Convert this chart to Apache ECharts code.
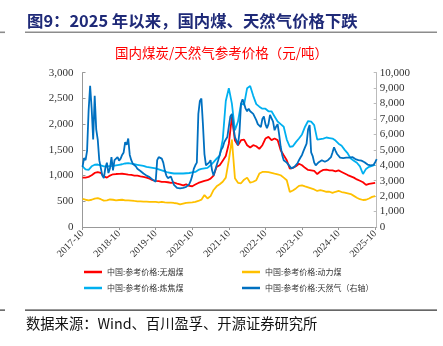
<!DOCTYPE html>
<html><head><meta charset="utf-8">
<script src="https://cdn.jsdelivr.net/npm/echarts@6/dist/echarts.min.js"></script>
<style>html,body{margin:0;padding:0;background:#fff}#c{width:443px;height:346px}</style>
</head><body><div id="c"></div>
<script>
// ---- data ----
const xTickLabels = ['2017-10','2018-10','2019-10','2020-10','2021-10','2022-10','2023-10','2024-10','2025-10'];
const seriesNames = ['中国:参考价格:无烟煤','中国:参考价格:动力煤','中国:参考价格:炼焦煤','中国:参考价格:天然气（右轴）'];
// monthly, 2017-10 .. 2025-10 (yuan/ton, left axis)
const anthracite = [960,960,975,1005,1050,1065,1050,985,960,1000,1025,1030,1032,1035,1030,1020,1012,1000,1000,986,975,960,940,910,895,890,876,876,870,858,865,844,830,811,830,798,792,825,857,876,895,909,941,1000,1170,1200,1290,1380,1620,2140,1680,1590,1687,1700,1590,1545,1590,1570,1519,1590,1720,1752,1690,1720,1690,1493,1395,1298,1136,1150,1180,1230,1200,1150,1110,1100,1090,1030,1080,1110,1115,1100,1100,1080,1100,1070,1040,1010,985,960,925,900,870,820,840,850,860];
const thermal = [545,530,519,530,552,560,540,513,519,535,530,519,525,530,519,519,513,506,500,500,493,493,487,487,487,480,487,480,474,474,467,461,441,454,467,474,480,487,506,532,620,555,600,720,790,830,880,960,1300,1700,950,860,850,920,960,860,880,910,1040,1070,1071,1065,1052,1038,1025,1006,960,909,681,710,750,800,811,790,770,750,730,701,715,701,685,685,662,685,701,680,670,655,640,605,570,540,525,530,555,585,600];
const coking = [1180,1120,1110,1180,1210,1215,1200,1180,1180,1185,1190,1200,1210,1220,1235,1240,1230,1220,1210,1200,1190,1170,1160,1150,1140,1120,1100,1080,1060,1050,1040,1040,1040,1040,1045,1050,1060,1070,1110,1130,1140,1150,1200,1260,1330,1390,1700,2450,2700,2400,1880,2050,2400,2380,2700,2740,2550,2390,2340,2300,2300,2250,2250,2150,2050,2000,1950,1700,1560,1570,1650,1720,1800,1950,2060,2050,1980,1700,1710,1720,1740,1730,1720,1680,1620,1580,1500,1430,1330,1290,1250,1180,1030,1130,1170,1190,1210];
// semi-monthly (1st and 16th), 2017-10-01 .. 2025-10-16 (yuan/ton, right axis)
const naturalGas = [
3890,4470,4330,4930,7530,9150,7700,5670,8500,6330,
5670,4330,3830,3330,3170,3830,4170,3500,3800,4530,
3670,4330,4270,4530,4300,4430,4670,4830,5500,5330,
5730,4670,4330,4100,4000,3930,3770,3670,3630,3530,
3470,3400,3330,3300,3230,3170,3070,3000,2930,4330,
4530,4470,4430,4170,3670,3330,3170,3200,3270,3000,
2730,2670,2530,2500,2500,2500,2530,2570,2600,2630,
2770,3000,3330,3770,4000,4170,7330,8170,8330,6670,
4730,4000,3900,4170,4330,3670,3330,3270,4000,4330,
4670,5000,5170,5500,5670,5830,6500,7170,7330,6500,
5830,5600,5300,6170,8000,8270,8000,7670,7500,7670,
7500,7430,7330,7230,6930,6670,6600,6470,7000,7170,
6670,6400,6670,7270,7330,6830,6270,6500,6670,6000,
5200,4670,4330,4270,4170,4100,3930,3800,3830,3900,
4000,4130,4330,4500,4670,4930,5000,5400,6330,6600,
4830,4600,4170,4000,4070,4200,4300,4330,4270,4230,
4300,4330,4400,4530,4830,5170,4930,4730,4630,4500,
4430,4470,4530,4500,4400,4500,4600,4530,4500,4400,
4370,4330,4330,4300,4230,4200,4100,4050,4030,4000,
4000,4030,4200,4400];

// ---- dates ----
const coalMonths = [];
for (let i = 0; i < anthracite.length; i++) {
  const t = 9 + i; const y = 2017 + Math.floor(t / 12); const m = t % 12 + 1;
  coalMonths.push(y + '-' + String(m).padStart(2, '0') + '-01');
}
const gasDates = [];
for (let i = 0; i < naturalGas.length; i++) {
  const t = 9 + Math.floor(i / 2); const y = 2017 + Math.floor(t / 12); const m = t % 12 + 1;
  gasDates.push(y + '-' + String(m).padStart(2, '0') + (i % 2 ? '-16' : '-01'));
}
function monthIndex(s) {
  const [y, m, d] = s.split('-').map(Number);
  return (y - 2017) * 12 + (m - 10) + (d - 1) / 30;
}
const pair = (dates, vals) => vals.map((v, i) => [monthIndex(dates[i]), v]);

const serif = '"Liberation Serif","Times New Roman",serif';
const cjk = '"Noto Sans CJK SC",sans-serif';
const colors = ['#ff0000', '#ffc000', '#00b0f0', '#0070c0'];
const tickVals = xTickLabels.map(l => monthIndex(l + '-01'));

const chart = echarts.init(document.getElementById('c'), null, {renderer: 'canvas'});
const legendPos = [[84, 268], [242, 268], [84, 284], [242, 284]];
chart.setOption({
  animation: false,
  color: colors,
  grid: {left: 82.5, right: 66.3, top: 72.7, bottom: 119},
  legend: seriesNames.map((n, i) => ({
    data: [n], left: legendPos[i][0], top: legendPos[i][1], icon: 'rect',
    itemWidth: 18, itemHeight: 2.5, itemGap: 4, padding: 0,
    textStyle: {fontFamily: cjk, fontSize: 8, color: '#333'}
  })),
  xAxis: {
    type: 'value', min: 0, max: 96.5, interval: 12,
    splitLine: {show: false},
    axisLine: {lineStyle: {color: '#999'}},
    axisTick: {show: true, length: 3, customValues: tickVals, lineStyle: {color: '#999'}},
    axisLabel: {
      customValues: tickVals, rotate: 45, margin: 5,
      fontFamily: serif, fontSize: 10, color: '#333',
      formatter: v => xTickLabels[Math.round(v / 12)] || ''
    }
  },
  yAxis: [{
    type: 'value', min: 0, max: 3000, interval: 500,
    splitLine: {show: false},
    axisLine: {show: true, lineStyle: {color: '#999'}},
    axisTick: {show: true, inside: true, length: 3, lineStyle: {color: '#999'}},
    axisLabel: {fontFamily: serif, fontSize: 11, color: '#333', margin: 9,
      formatter: v => v.toLocaleString('en-US')}
  }, {
    type: 'value', min: 0, max: 10000, interval: 1000, position: 'right',
    splitLine: {show: false},
    axisLine: {show: true, lineStyle: {color: '#bbb'}},
    axisTick: {show: true, inside: true, length: 3, lineStyle: {color: '#bbb'}},
    axisLabel: {fontFamily: serif, fontSize: 11, color: '#333', margin: 3,
      formatter: v => v.toLocaleString('en-US')}
  }],
  series: [
    {name: seriesNames[0], type: 'line', showSymbol: false, symbol: 'none', lineStyle: {width: 1.8}, data: pair(coalMonths, anthracite), z: 3},
    {name: seriesNames[1], type: 'line', showSymbol: false, symbol: 'none', lineStyle: {width: 1.8}, data: pair(coalMonths, thermal), z: 3},
    {name: seriesNames[2], type: 'line', showSymbol: false, symbol: 'none', lineStyle: {width: 1.8}, data: pair(coalMonths, coking), z: 2},
    {name: seriesNames[3], type: 'line', yAxisIndex: 1, showSymbol: false, symbol: 'none', lineStyle: {width: 1.8}, data: pair(gasDates, naturalGas), z: 4}
  ],
  graphic: [
    {type: 'text', left: 27, top: 12.5, style: {text: '图9：2025 年以来，国内煤、天然气价格下跌', fontFamily: cjk, fontWeight: 'bold', fontSize: 16.4, fill: '#1f2a78'}},
    {type: 'rect', left: 25, top: 31.5, shape: {width: 412, height: 1.6}, style: {fill: '#8c8c8c'}},
    {type: 'rect', left: 0, top: 31.5, shape: {width: 5, height: 1.6}, style: {fill: '#8c8c8c'}},
    {type: 'text', left: 'center', top: 46, style: {text: '国内煤炭/天然气参考价格（元/吨）', fontFamily: cjk, fontSize: 13.5, fill: '#ff0000', x: 231, align: 'center'}},
    {type: 'rect', left: 25, top: 309.5, shape: {width: 412, height: 1.2}, style: {fill: '#333'}},
    {type: 'rect', left: 0, top: 309.5, shape: {width: 5, height: 1.2}, style: {fill: '#333'}},
    {type: 'text', left: 26, top: 316.5, style: {text: '数据来源：Wind、百川盈孚、开源证券研究所', fontFamily: cjk, fontSize: 14.3, fill: '#111'}}
  ]
});
</script></body></html>
